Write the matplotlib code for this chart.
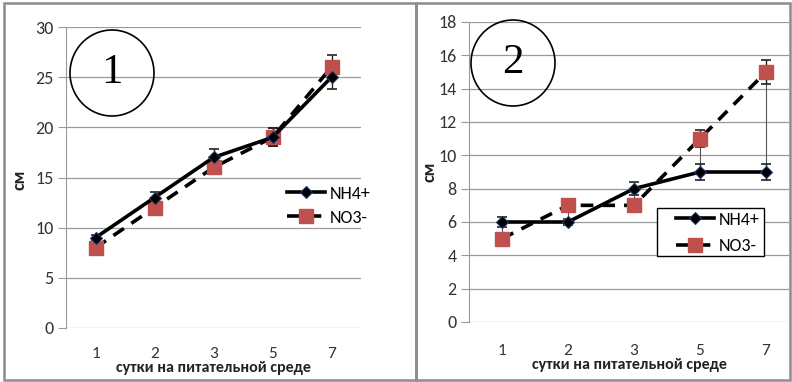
import numpy as np
import matplotlib.pyplot as plt
from matplotlib.patches import Ellipse, Rectangle

plt.rcParams['font.family'] = ['Carlito', 'Liberation Sans Narrow', 'DejaVu Sans']

days = ['1', '2', '3', '5', '7']

# график 1
nh4_1 = [9, 13, 17, 19, 25]
no3_1 = [8, 12, 16, 19, 26]
nh4_1_err = [0.3, 0.6, 0.8, 0.9, 1.2]
no3_1_err = [0.6, 0.6, 0.7, 0.9, 1.2]

# график 2
nh4_2 = [6, 6, 8, 9, 9]
no3_2 = [5, 7, 7, 11, 15]
nh4_2_err = [0.3, 0.2, 0.4, 0.5, 0.5]
no3_2_err = [0.2, 0.3, 0.3, 0.5, 0.7]

W, H = 792, 382
fig = plt.figure(figsize=(W / 100, H / 100), dpi=100)


def px_box(l, t, r, b):
    return [l / W, 1 - b / H, (r - l) / W, (b - t) / H]


def panel(rect, nh4, no3, e1, e2, ymax, ystep, xmax, xpad):
    ax = fig.add_axes(rect)
    x = np.arange(len(days))
    # линии максимум-минимум
    ax.vlines(x, np.minimum(nh4, no3), np.maximum(nh4, no3),
              color='#555555', lw=0.8, zorder=1)
    ax.errorbar(x, no3, yerr=e2, fmt='none', ecolor='#222222',
                elinewidth=1, capsize=3.5, capthick=1.2, zorder=2)
    ax.errorbar(x, nh4, yerr=e1, fmt='none', ecolor='#222222',
                elinewidth=1, capsize=3.5, capthick=1.2, zorder=2)
    l1, = ax.plot(x, nh4, '-', color='black', lw=2.6, marker='D',
                  ms=6, mfc='black', mec='#1f3a6a', mew=0.8, zorder=4,
                  label='NH4+')
    l2, = ax.plot(x, no3, '--', color='black', lw=2.6, dashes=(3.5, 2.5),
                  marker='s', ms=10, mfc='#c0504d', mec='#c0504d',
                  zorder=3, label='NO3-')
    ax.set_xlim(-0.5, xmax)
    ax.set_ylim(0, ymax)
    ax.set_yticks(np.arange(0, ymax + 1, ystep))
    ax.set_xticks(x)
    ax.set_xticklabels(days)
    ax.yaxis.grid(True, color='#9a9a9a', lw=0.9)
    ax.set_axisbelow(True)
    for s in ['top', 'right', 'bottom']:
        ax.spines[s].set_visible(False)
    ax.spines['left'].set_color('#9a9a9a')
    ax.tick_params(axis='y', length=6, color='#9a9a9a', labelsize=13,
                   labelcolor='#333333', pad=3)
    ax.tick_params(axis='x', length=0, labelsize=12.5, labelcolor='#333333',
                   pad=xpad)
    ax.set_xlabel('сутки на питательной среде', fontsize=11.5,
                  fontweight='bold', color='#222222', labelpad=0)
    return ax, l1, l2


ax1, a1, b1 = panel(px_box(66, 27, 361, 328), nh4_1, no3_1,
                    nh4_1_err, no3_1_err, 30, 5, 4.5, 14)
ax2, a2, b2 = panel(px_box(469, 22, 789, 322), nh4_2, no3_2,
                    nh4_2_err, no3_2_err, 18, 2, 4.35, 16)

fig.text(20 / W, 1 - 180 / H, 'см', rotation=90, fontsize=13,
         fontweight='bold', ha='center', va='center', color='#222222')
fig.text(430 / W, 1 - 172 / H, 'см', rotation=90, fontsize=13,
         fontweight='bold', ha='center', va='center', color='#222222')

leg_kw = dict(loc='upper left', bbox_transform=fig.transFigure,
              frameon=False, fontsize=13, handlelength=2.1,
              handletextpad=0.3, borderpad=0.2, borderaxespad=0)
ax1.legend(handles=[a1, b1], bbox_to_anchor=(283 / W, 1 - 182 / H),
           labelspacing=0.45, **leg_kw)
ax2.legend(handles=[a2, b2], bbox_to_anchor=(672 / W, 1 - 208 / H),
           labelspacing=0.6, **leg_kw)
# рамка легенды второго графика
ax2.add_patch(Rectangle((657 / W, 1 - 256 / H), 107 / W, 48 / H,
                        transform=fig.transFigure, fc='white',
                        ec='black', lw=1.0, zorder=4.5, clip_on=False))

# номера графиков в кружках
for cx, cy, num in [(112, 73, '1'), (513, 63, '2')]:
    fig.patches.append(Ellipse((cx / W, 1 - cy / H), 84 / W, 86 / H,
                               transform=fig.transFigure, fill=False,
                               ec='black', lw=1.2, zorder=5))
    fig.text(cx / W, 1 - cy / H, num, fontsize=31, family='Liberation Serif',
             ha='center', va='center', zorder=6)

# рамки панелей
for l, r in [(4, 416), (416, 790)]:
    fig.patches.append(Rectangle((l / W, 1 - 380 / H), (r - l) / W,
                                 377 / H, transform=fig.transFigure,
                                 fill=False, ec='#8c8c8c', lw=1.8))

fig.savefig('out.png', dpi=100)
